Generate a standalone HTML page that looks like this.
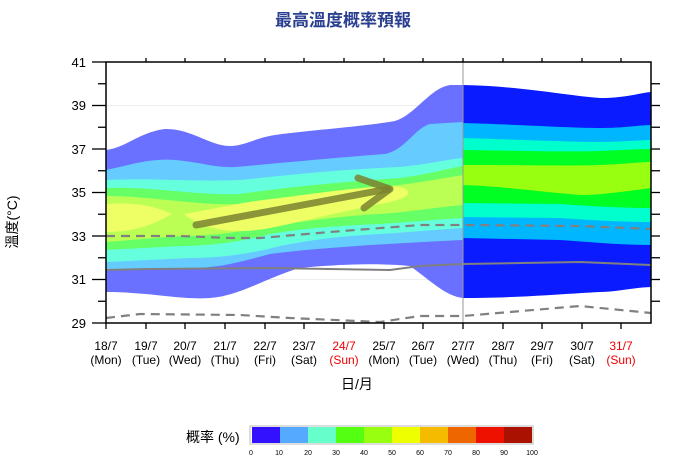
<!DOCTYPE html>
<html><head><meta charset="utf-8"><style>
body{margin:0;background:#fff;}
svg{display:block;font-family:"Liberation Sans","Noto Sans CJK TC",sans-serif;}
</style></head><body>
<svg width="680" height="468" viewBox="0 0 680 468">
<text x="343" y="26" text-anchor="middle" font-size="17" font-weight="bold" fill="#2a3f8f">最高溫度概率預報</text>
<!-- grid -->
<g stroke="#eee" stroke-width="1">
<line x1="106" x2="651" y1="105.5" y2="105.5"/><line x1="106" x2="651" y1="149" y2="149"/><line x1="106" x2="651" y1="192.5" y2="192.5"/><line x1="106" x2="651" y1="236" y2="236"/><line x1="106" x2="651" y1="279.5" y2="279.5"/>
</g>
<!-- left region bands -->
<path fill="#6a70ff" d="M106,150 C125,148 140,132 165,129 C190,128 210,146 230,146 C245,146 255,138 275,135 C310,130 360,127 395,121 C415,115 430,88 450,85 L463,85 L463,298 C445,296 430,280 410,266 C370,262 320,266 300,268 C270,276 240,296 210,298 C180,300 150,292 106,292 Z"/>
<path fill="#66ccff" d="M106,170 C130,165 150,158 175,160 C200,162 215,168 235,167 C270,164 330,158 385,154 C405,150 415,128 430,124 L463,122 L463,240 C420,242 390,244 370,245 C330,248 300,250 270,254 C240,262 220,268 190,268 L106,270 Z"/>
<path fill="#66ffdd" d="M106,180 C150,178 200,182 240,180 C280,176 330,170 400,167 C430,164 450,159 463,158 L463,228 C430,230 410,232 380,234 C340,236 310,240 280,246 C250,254 220,258 190,258 L106,262 Z"/>
<path fill="#66ff66" d="M106,188 C150,186 200,196 240,194 C280,188 340,182 400,178 C430,174 450,168 463,166 L463,218 C430,220 410,222 380,224 C330,226 300,229 270,234 C240,242 210,246 180,246 L106,250 Z"/>
<path fill="#bbff55" d="M106,196 C150,196 200,206 240,204 C290,196 350,188 400,185 C430,181 450,177 463,175 L463,205 C430,208 410,212 380,214 C340,216 300,222 270,226 C240,232 210,236 180,236 L106,242 Z"/>
<path fill="#eeff66" d="M106,204 C135,202 155,206 172,214 C155,224 135,232 106,232 Z"/>
<path fill="#eeff66" d="M184,214 C210,210 240,202 280,198 C330,192 380,184 400,187 C418,192 405,200 380,204 C340,212 300,222 270,228 C240,234 205,232 184,214 Z"/>
<!-- right region bands -->
<path fill="#0a1cff" d="M463,85 C520,86 570,96 600,98 C625,98 640,93 651,92 L651,287 C630,288 615,292 600,292 C560,294 520,298 463,298 Z"/>
<path fill="#00b7ff" d="M463,123 C530,125 570,128 600,128 C625,128 640,125 651,125 L651,245 C620,245 590,242 560,240 L463,238 Z"/>
<path fill="#00ffcc" d="M463,138 C530,140 570,142 600,142 C625,142 640,140 651,140 L651,222 C620,222 590,220 560,218 L463,217 Z"/>
<path fill="#00ff22" d="M463,150 C530,151 570,152 600,151 C625,150 640,149 651,149 L651,208 C620,208 590,206 560,204 L463,203 Z"/>
<path fill="#99ff11" d="M463,165 C530,165 570,166 600,165 C625,164 640,162 651,162 L651,188 C620,192 600,195 580,195 C540,192 500,186 463,185 Z"/>
<!-- lines -->
<polyline fill="none" stroke="#808080" stroke-width="2" points="106,270 150,269 270,268 390,270 405,268 420,266 463,264 580,262 651,265"/>
<polyline fill="none" stroke="#808080" stroke-width="2.2" stroke-dasharray="9,6" points="106,236 180,236 230,238 260,238 330,232 420,225 463,225 580,226 651,229"/>
<polyline fill="none" stroke="#808080" stroke-width="2.2" stroke-dasharray="9,6" points="106,318 140,314 240,315 290,318 380,322 420,316 463,316 580,306 651,313"/>
<!-- arrow -->
<g stroke="#7a8230" stroke-opacity="0.85" stroke-width="7" fill="none" stroke-linecap="round" stroke-linejoin="round">
<line x1="196" y1="225" x2="388" y2="189"/>
<polyline points="358,178 390,189 364,208"/>
</g>
<line x1="463" y1="62" x2="463" y2="323" stroke="#999" stroke-width="1"/>
<!-- axes -->
<rect x="106" y="62" width="545" height="261" fill="none" stroke="#000" stroke-width="1.5"/>
<g stroke="#000" stroke-width="1.3">
<line x1="92" x2="106" y1="62" y2="62"/><line x1="92" x2="106" y1="105.5" y2="105.5"/><line x1="92" x2="106" y1="149" y2="149"/><line x1="92" x2="106" y1="192.5" y2="192.5"/><line x1="92" x2="106" y1="236" y2="236"/><line x1="92" x2="106" y1="279.5" y2="279.5"/><line x1="92" x2="106" y1="323" y2="323"/>
<line x1="98" x2="106" y1="83.75" y2="83.75"/><line x1="98" x2="106" y1="127.25" y2="127.25"/><line x1="98" x2="106" y1="170.75" y2="170.75"/><line x1="98" x2="106" y1="214.25" y2="214.25"/><line x1="98" x2="106" y1="257.75" y2="257.75"/><line x1="98" x2="106" y1="301.25" y2="301.25"/>
<line x1="651" x2="660" y1="83.75" y2="83.75"/><line x1="651" x2="660" y1="105.5" y2="105.5"/><line x1="651" x2="660" y1="127.25" y2="127.25"/><line x1="651" x2="660" y1="149" y2="149"/><line x1="651" x2="660" y1="170.75" y2="170.75"/><line x1="651" x2="660" y1="192.5" y2="192.5"/><line x1="651" x2="660" y1="214.25" y2="214.25"/><line x1="651" x2="660" y1="236" y2="236"/><line x1="651" x2="660" y1="257.75" y2="257.75"/><line x1="651" x2="660" y1="279.5" y2="279.5"/><line x1="651" x2="660" y1="301.25" y2="301.25"/>
</g>
<g stroke="#000" stroke-width="1.3" id="xt">
<path d="M146,58v4M185,58v4M225,58v4M265,58v4M304,58v4M344,58v4M384,58v4M423,58v4M463,58v4M503,58v4M542,58v4M582,58v4M621,58v4"/>
<path d="M106,323v6M146,323v6M185,323v6M225,323v6M265,323v6M304,323v6M344,323v6M384,323v6M423,323v6M463,323v6M503,323v6M542,323v6M582,323v6M621,323v6"/>
</g>
<g font-size="13" text-anchor="end" fill="#000">
<text x="86" y="67">41</text><text x="86" y="110">39</text><text x="86" y="154">37</text><text x="86" y="197">35</text><text x="86" y="241">33</text><text x="86" y="284">31</text><text x="86" y="328">29</text>
</g>
<g font-size="12" text-anchor="middle" fill="#000">
<text x="106" y="350">18/7</text><text x="106" y="364">(Mon)</text>
<text x="146" y="350">19/7</text><text x="146" y="364">(Tue)</text>
<text x="185" y="350">20/7</text><text x="185" y="364">(Wed)</text>
<text x="225" y="350">21/7</text><text x="225" y="364">(Thu)</text>
<text x="265" y="350">22/7</text><text x="265" y="364">(Fri)</text>
<text x="304" y="350">23/7</text><text x="304" y="364">(Sat)</text>
<text x="344" y="350" fill="#e00">24/7</text><text x="344" y="364" fill="#e00">(Sun)</text>
<text x="384" y="350">25/7</text><text x="384" y="364">(Mon)</text>
<text x="423" y="350">26/7</text><text x="423" y="364">(Tue)</text>
<text x="463" y="350">27/7</text><text x="463" y="364">(Wed)</text>
<text x="503" y="350">28/7</text><text x="503" y="364">(Thu)</text>
<text x="542" y="350">29/7</text><text x="542" y="364">(Fri)</text>
<text x="582" y="350">30/7</text><text x="582" y="364">(Sat)</text>
<text x="621" y="350" fill="#e00">31/7</text><text x="621" y="364" fill="#e00">(Sun)</text>
</g>
<text x="357" y="389" font-size="14" text-anchor="middle">日/月</text>
<text transform="translate(17,222) rotate(-90)" font-size="14" text-anchor="middle">溫度(°C)</text>
<!-- legend -->
<text x="186" y="442" font-size="14">概率 (%)</text>
<rect x="250" y="426" width="283" height="18" fill="#fff" stroke="#bbb"/>
<g>
<rect x="252" y="427" width="28" height="16" fill="#3311ff"/><rect x="280" y="427" width="28" height="16" fill="#55aaff"/><rect x="308" y="427" width="28" height="16" fill="#66ffcc"/><rect x="336" y="427" width="28" height="16" fill="#55ff11"/><rect x="364" y="427" width="28" height="16" fill="#99ff11"/><rect x="392" y="427" width="28" height="16" fill="#eeff00"/><rect x="420" y="427" width="28" height="16" fill="#f5bb00"/><rect x="448" y="427" width="28" height="16" fill="#ee6600"/><rect x="476" y="427" width="28" height="16" fill="#ee1100"/><rect x="504" y="427" width="28" height="16" fill="#aa1100"/>
</g>
<g font-size="7" text-anchor="middle">
<text x="251" y="455">0</text><text x="279" y="455">10</text><text x="308" y="455">20</text><text x="336" y="455">30</text><text x="364" y="455">40</text><text x="392" y="455">50</text><text x="420" y="455">60</text><text x="448" y="455">70</text><text x="476" y="455">80</text><text x="504" y="455">90</text><text x="532" y="455">100</text>
</g>
</svg>
</body></html>
